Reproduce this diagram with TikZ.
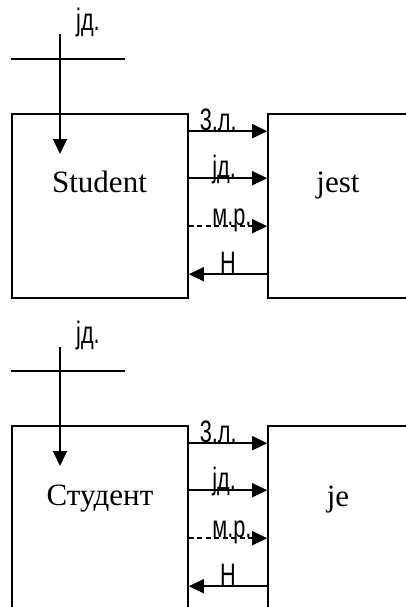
\documentclass[tikz,border=0pt]{standalone}
\usepackage{fontspec}
\setmainfont{Liberation Serif}
\newfontfamily\narrowsf[FakeStretch=0.7]{Liberation Sans}
\usetikzlibrary{arrows.meta,positioning,calc}
\tikzset{
  wordbox/.style={draw, line width=1.6pt, minimum width=176pt, minimum height=184pt, inner sep=0pt},
  wordtext/.style={font=\fontsize{31}{31}\selectfont, inner sep=0pt, anchor=base},
  featlabel/.style={font=\narrowsf\fontsize{31}{31}\selectfont, inner sep=0pt, anchor=base},
  featedge/.style={-{Triangle[length=15pt,width=14pt]}, line width=1.6pt},
  featbar/.style={line width=1.6pt},
}
\begin{document}
\begin{tikzpicture}[x=1pt,y=-1pt]
  \useasboundingbox (0,0) rectangle (406,607);
  \clip (0,0) rectangle (406,607);
  % Polish: Student jest
  \node[wordbox] (studbox) at (100,206) {};
  \node[wordbox] (jestbox) at (356,206) {};
  \node[wordtext] (stud) at (99.5,192) {Student};
  \node[wordtext] (jest) at (338,192) {jest};
  \coordinate (studtop) at (60,34);
  \coordinate (studtip) at (60,154);
  \node[featlabel] (studnum) at (88,31) {јд.};
  \draw[featbar] (11,59) -- (125,59);
  \draw[featedge] (studtop) -- (studtip);
  \draw[featedge] ([yshift=-18pt]studbox.north east) -- ([yshift=-18pt]jestbox.north west)
    node[featlabel, pos=0.375, yshift=1pt] {3.л.};
  \draw[featedge] ([yshift=-65pt]studbox.north east) -- ([yshift=-65pt]jestbox.north west)
    node[featlabel, pos=0.45, yshift=1pt] {јд.};
  \draw[featedge, dash pattern=on 5pt off 3.5pt] ([yshift=-113pt]studbox.north east) -- ([yshift=-113pt]jestbox.north west)
    node[featlabel, pos=0.55, yshift=1pt] {м.р.};
  \draw[featedge] ([yshift=-161pt]jestbox.north west) -- ([yshift=-161pt]studbox.north east)
    node[featlabel, pos=0.5, yshift=1pt] {Н};
  % Serbian: Студент je
  \node[wordbox] (studcbox) at (100,518) {};
  \node[wordbox] (jebox) at (356,518) {};
  \node[wordtext] (studc) at (100,505) {Студент};
  \node[wordtext] (je) at (338,506) {je};
  \coordinate (studctop) at (60,347);
  \coordinate (studctip) at (60,466);
  \node[featlabel] (studcnum) at (88,343) {јд.};
  \draw[featbar] (11,371) -- (125,371);
  \draw[featedge] (studctop) -- (studctip);
  \draw[featedge] ([yshift=-18pt]studcbox.north east) -- ([yshift=-18pt]jebox.north west)
    node[featlabel, pos=0.375, yshift=1pt] {3.л.};
  \draw[featedge] ([yshift=-65pt]studcbox.north east) -- ([yshift=-65pt]jebox.north west)
    node[featlabel, pos=0.45, yshift=1pt] {јд.};
  \draw[featedge, dash pattern=on 5pt off 3.5pt] ([yshift=-113pt]studcbox.north east) -- ([yshift=-113pt]jebox.north west)
    node[featlabel, pos=0.55, yshift=1pt] {м.р.};
  \draw[featedge] ([yshift=-161pt]jebox.north west) -- ([yshift=-161pt]studcbox.north east)
    node[featlabel, pos=0.5, yshift=1pt] {Н};
\end{tikzpicture}
\end{document}
